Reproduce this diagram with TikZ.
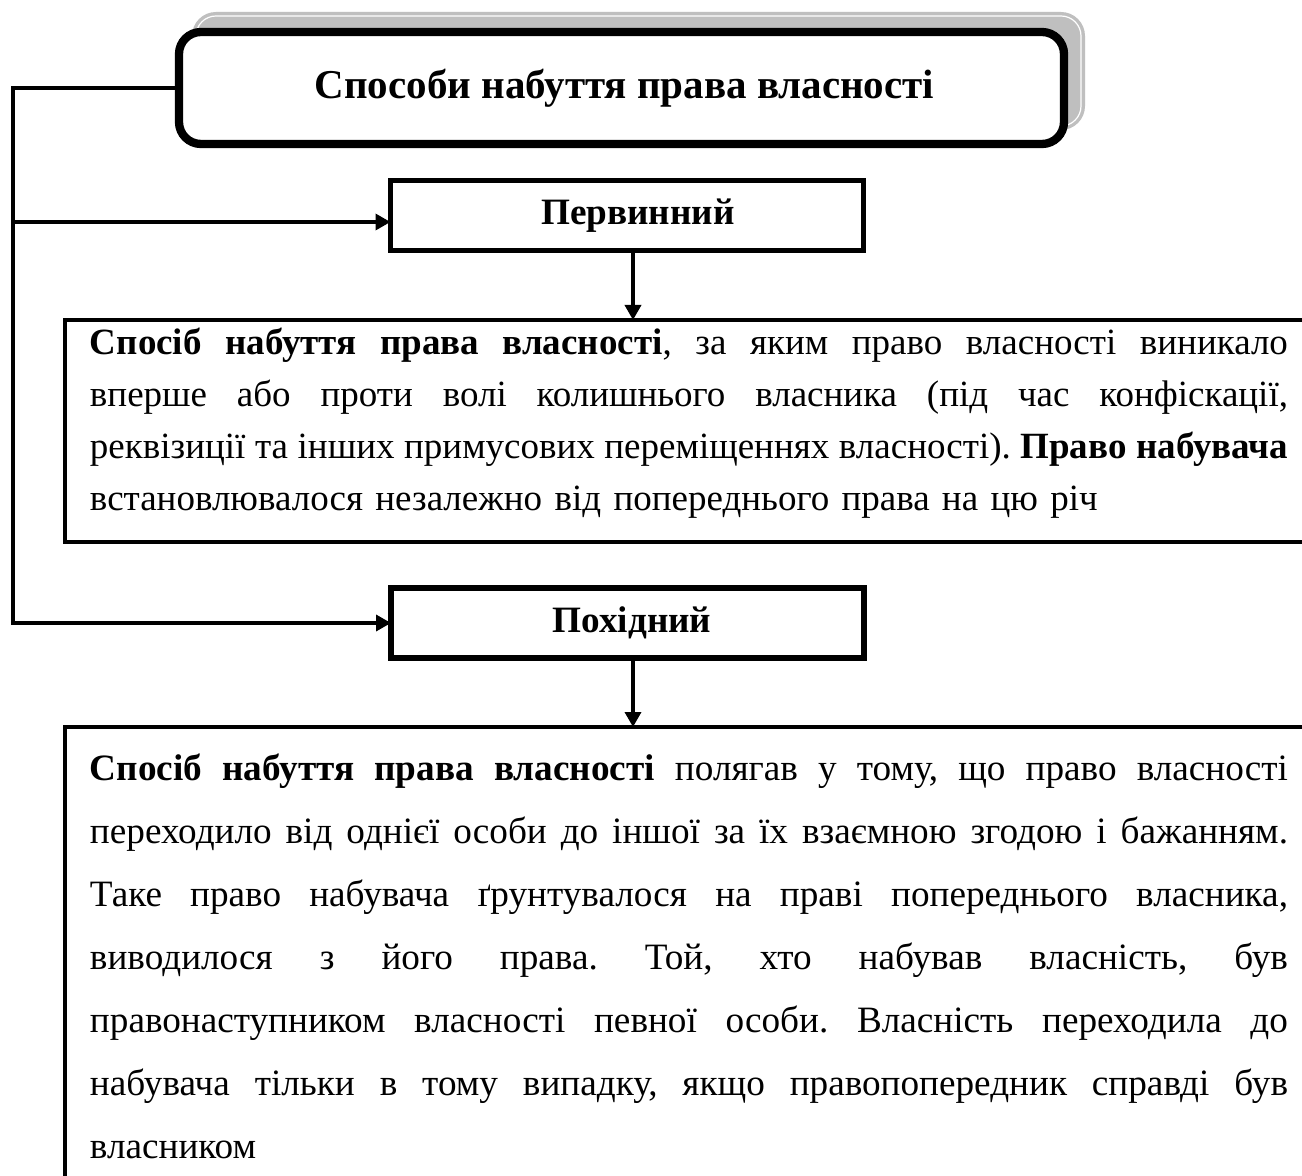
\documentclass[tikz,border=0pt]{standalone}
\usepackage{fontspec}
\setmainfont{Liberation Serif}
\usetikzlibrary{arrows.meta,calc}
\setlength{\parindent}{0pt}
\frenchspacing
\newcommand{\jline}[1]{\hbox to 599pt{\spaceskip=0.25em plus 1fil minus 0.15em\relax #1}}
\newcommand{\lline}[1]{\hbox{#1}}
\begin{document}
\begin{tikzpicture}[x=0.5pt,y=-0.5pt,
  conn/.style={line width=1.75pt},
  arr/.style={-{Triangle[length=7.5pt,width=8pt]}},
  titlebox/.style={draw, line width=4.15pt, rounded corners=11pt, fill=white,
    minimum width=442.5pt, minimum height=56pt, inner sep=0pt, outer sep=0pt,
    font=\bfseries\fontsize{20.5pt}{25pt}\selectfont},
  labelbox/.style={draw, line width=2.75pt, fill=white, minimum width=236.5pt,
    minimum height=35pt, inner sep=0pt, outer sep=0pt,
    font=\bfseries\fontsize{18.6pt}{22pt}\selectfont},
  textbox/.style={draw, line width=2pt, anchor=north west, outer sep=0pt,
    inner xsep=12.5pt, text width=599pt}
]
\useasboundingbox (0,0) rectangle (1302,1176);
\clip (0,0) rectangle (1302,1176);
\fill[white] (0,0) rectangle (1302,1176);

% shadow of the title box
\fill[black!25, rounded corners=12pt] (192,12) rectangle (1085,130);
\draw[white, line width=0.6pt, rounded corners=10pt] (196,16) rectangle (1081,126);

\node[titlebox] (title) at (621.5,88) {\hspace*{3pt}Способи набуття права власності};

\node[labelbox] (perv) at (627,215.5) {\hspace*{11pt}Первинний};
\node[labelbox] (pohid) at (627.5,623) {\hspace*{4.5pt}Похідний};

\node[textbox, inner ysep=2.5pt,
  font=\fontsize{18.5pt}{25.85pt}\selectfont] (t1) at (65,320) {%
\jline{\rule{0pt}{15pt}\textbf{Спосіб набуття права власності}, за яким право власності виникало}
\jline{вперше або проти волі колишнього власника (під час конфіскації,}
\jline{реквізиції та інших примусових переміщеннях власності). \textbf{Право набувача}}
\lline{встановлювалося незалежно від попереднього права на цю річ\rule[-13.5pt]{0pt}{13.5pt}}};

\node[textbox, inner ysep=11.5pt,
  font=\fontsize{18.6pt}{31.5pt}\selectfont] (t2) at (65,727) {%
\jline{\rule{0pt}{15pt}\textbf{Спосіб набуття права власності} полягав у тому, що право власності}
\jline{переходило від однієї особи до іншої за їх взаємною згодою і бажанням.}
\jline{Таке право набувача ґрунтувалося на праві попереднього власника,}
\jline{виводилося з його права. Той, хто набував власність, був}
\jline{правонаступником власності певної особи. Власність переходила до}
\jline{набувача тільки в тому випадку, якщо правопопередник справді був}
\lline{власником}};

% connectors
\coordinate (spine) at (13,0);
\draw[conn,arr] (title.west) -- (title.west -| spine) |- (pohid.west);
\coordinate (pv) at ($(perv.west)+(0,6.5)$);
\draw[conn,arr] (spine |- pv) -- (pv);
\coordinate (pd) at ($(perv.south)+(6,0)$);
\draw[conn,arr] (pd) -- (pd |- t1.north);
\coordinate (hd) at ($(pohid.south)+(5.5,0)$);
\draw[conn,arr] (hd) -- (hd |- t2.north);
\end{tikzpicture}
\end{document}
